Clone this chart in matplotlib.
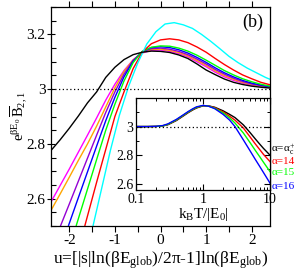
import matplotlib
matplotlib.use("Agg")
import matplotlib.pyplot as plt
from matplotlib.ticker import MultipleLocator, FixedLocator, LogLocator, NullFormatter

plt.rcParams['font.family'] = ['Liberation Serif', 'DejaVu Serif']
plt.rcParams['mathtext.fontset'] = 'custom'
plt.rcParams['mathtext.rm'] = 'Liberation Serif'
plt.rcParams['mathtext.it'] = 'Liberation Serif:italic'

# ---------------- main panel data ----------------
u_black = [-2.4, -2.2, -2.0, -1.8, -1.6, -1.4, -1.2, -1.0, -0.8, -0.6, -0.4, -0.2, 0.0,
           0.2, 0.4, 0.6, 0.8, 1.0, 1.2, 1.4, 1.6, 1.8, 2.0, 2.2, 2.4]
B_black = [2.776, 2.815, 2.857, 2.902, 2.950, 2.990, 3.043, 3.080, 3.108, 3.126, 3.135, 3.139, 3.138,
           3.134, 3.125, 3.112, 3.092, 3.070, 3.053, 3.037, 3.025, 3.017, 3.011, 3.007, 3.004]

u_magenta = [-2.4, -2.2, -2.0, -1.8, -1.6, -1.4, -1.2, -1.0, -0.8, -0.6, -0.4, -0.2, 0.0,
             0.2, 0.4, 0.6, 0.8, 1.0, 1.2, 1.4, 1.6, 1.8, 2.0, 2.2, 2.4]
B_magenta = [2.588, 2.648, 2.708, 2.770, 2.832, 2.895, 2.960, 3.018, 3.068, 3.107, 3.132, 3.142, 3.143,
             3.138, 3.130, 3.118, 3.100, 3.082, 3.062, 3.045, 3.032, 3.022, 3.015, 3.010, 3.006]

u_orange = [-2.4, -2.2, -2.0, -1.8, -1.6, -1.4, -1.2, -1.0, -0.8, -0.6, -0.4, -0.2, 0.0,
            0.2, 0.4, 0.6, 0.8, 1.0, 1.2, 1.4, 1.6, 1.8, 2.0, 2.2, 2.4]
B_orange = [2.557, 2.617, 2.678, 2.740, 2.800, 2.865, 2.935, 3.005, 3.064, 3.107, 3.134, 3.145, 3.146,
            3.142, 3.134, 3.122, 3.105, 3.087, 3.067, 3.050, 3.036, 3.025, 3.017, 3.011, 3.007]

u_purple = [-2.2, -2.0, -1.8, -1.6, -1.4, -1.2, -1.0, -0.8, -0.6, -0.4, -0.2, 0.0,
            0.2, 0.4, 0.6, 0.8, 1.0, 1.2, 1.4, 1.6, 1.8, 2.0, 2.2, 2.4]
B_purple = [2.497, 2.580, 2.664, 2.748, 2.832, 2.915, 2.990, 3.055, 3.105, 3.136, 3.148, 3.150,
            3.146, 3.138, 3.126, 3.110, 3.092, 3.072, 3.055, 3.040, 3.028, 3.019, 3.013, 3.008]

u_blue = [-2.02, -1.8, -1.6, -1.4, -1.2, -1.0, -0.8, -0.6, -0.4, -0.2, 0.0,
          0.2, 0.4, 0.6, 0.8, 1.0, 1.2, 1.4, 1.6, 1.8, 2.0, 2.2, 2.4]
B_blue = [2.500, 2.604, 2.698, 2.792, 2.885, 2.970, 3.045, 3.102, 3.137, 3.152, 3.155,
          3.152, 3.144, 3.132, 3.116, 3.098, 3.078, 3.060, 3.045, 3.032, 3.022, 3.015, 3.009]

u_green = [-1.85, -1.6, -1.4, -1.2, -1.0, -0.8, -0.6, -0.4, -0.2, 0.0,
           0.2, 0.4, 0.6, 0.8, 1.0, 1.2, 1.4, 1.6, 1.8, 2.0, 2.2, 2.4]
B_green = [2.500, 2.635, 2.743, 2.850, 2.945, 3.030, 3.097, 3.138, 3.153, 3.158,
           3.157, 3.150, 3.139, 3.124, 3.106, 3.087, 3.068, 3.052, 3.038, 3.027, 3.018, 3.011]

u_red = [-1.66, -1.4, -1.2, -1.0, -0.8, -0.6, -0.4, -0.2, 0.0,
         0.2, 0.4, 0.6, 0.8, 1.0, 1.2, 1.4, 1.6, 1.8, 2.0, 2.2, 2.4]
B_red = [2.500, 2.660, 2.780, 2.900, 2.990, 3.075, 3.135, 3.166, 3.180,
         3.184, 3.180, 3.170, 3.154, 3.135, 3.112, 3.090, 3.070, 3.052, 3.038, 3.025, 3.016]

u_cyan = [-1.48, -1.3, -1.1, -0.9, -0.7, -0.5, -0.3, -0.1, 0.1, 0.3, 0.5, 0.7,
          0.9, 1.1, 1.3, 1.5, 1.7, 1.9, 2.1, 2.3, 2.4]
B_cyan = [2.500, 2.630, 2.775, 2.905, 3.010, 3.095, 3.165, 3.210, 3.238, 3.243, 3.235, 3.222,
          3.200, 3.175, 3.148, 3.120, 3.097, 3.077, 3.060, 3.043, 3.036]

# ---------------- inset data ----------------
T_in = [0.1, 0.15, 0.2, 0.25, 0.3, 0.4, 0.5, 0.6, 0.7, 0.8, 1.0, 1.2, 1.5, 2.0, 2.5, 3.0, 4.0, 5.0, 6.0, 7.0, 8.0, 10.0]
in_black = [3.0, 3.0, 3.001, 3.004, 3.013, 3.042, 3.072, 3.097, 3.116, 3.130, 3.145, 3.145, 3.135, 3.110, 3.085, 3.063, 3.012, 2.960, 2.915, 2.878, 2.847, 2.800]
in_red = [3.0, 3.0, 3.001, 3.005, 3.015, 3.045, 3.075, 3.100, 3.119, 3.133, 3.146, 3.145, 3.132, 3.102, 3.072, 3.045, 2.990, 2.930, 2.880, 2.840, 2.805, 2.755]
in_green = [3.0, 3.0, 3.001, 3.005, 3.016, 3.047, 3.077, 3.102, 3.121, 3.135, 3.147, 3.144, 3.128, 3.095, 3.060, 3.025, 2.955, 2.890, 2.835, 2.790, 2.750, 2.685]
in_blue = [3.0, 3.0, 3.002, 3.007, 3.019, 3.050, 3.080, 3.105, 3.124, 3.138, 3.148, 3.143, 3.125, 3.085, 3.045, 3.000, 2.907, 2.833, 2.772, 2.722, 2.678, 2.604]
legend_labels = [r'α=α$_{\mathregular{c}}^{\mathregular{+}}$', 'α=14', 'α=15', 'α=16']

fig = plt.figure(figsize=(2.99, 2.71), dpi=100)
ax = fig.add_axes([0.1706, 0.166, 0.7324, 0.808])

main_series = [
    (u_magenta, B_magenta, '#ff00ff'),
    (u_orange, B_orange, '#ffa500'),
    (u_purple, B_purple, '#9400d3'),
    (u_blue, B_blue, '#0000ff'),
    (u_green, B_green, '#00ff00'),
    (u_red, B_red, '#ff0000'),
    (u_cyan, B_cyan, '#00ffff'),
    (u_black, B_black, '#000000'),
]
for xs, ys, c in main_series:
    ax.plot(xs, ys, color=c, lw=1.0, solid_capstyle='butt')
ax.axhline(3.0, color='black', lw=0.9, ls=(0, (1, 2)))
ax.set_xlim(-2.4, 2.4)
ax.set_ylim(2.5, 3.3)
ax.yaxis.set_major_locator(FixedLocator([2.6, 2.8, 3.0, 3.2]))
ax.set_yticklabels(['2.6', '2.8', '3', '3.2'])
ax.yaxis.set_minor_locator(MultipleLocator(0.05))
ax.xaxis.set_major_locator(FixedLocator([-2, -1, 0, 1, 2]))
ax.set_xticklabels(['-2', '-1', '0', '1', '2'])
ax.xaxis.set_minor_locator(MultipleLocator(0.5))
ax.tick_params(axis='y', which='major', direction='inout', length=6, width=0.8, labelsize=11, pad=1, right=False)
ax.tick_params(axis='y', which='minor', direction='in', length=3.5, width=0.8, right=False)
ax.tick_params(axis='x', which='both', direction='out', length=4, width=0.8, labelsize=11, top=True, pad=2)
for sp in ax.spines.values():
    sp.set_linewidth(0.9)
ax.set_xlabel('u=[|s|ln(βE$_{\\mathregular{glob}}$)/2π-1]ln(βE$_{\\mathregular{glob}}$)', fontsize=12.5)
ax.xaxis.set_label_coords(0.5, -0.105)
ax.set_ylabel(r'$\mathregular{e^{\beta E_0}\,\overline{B}_{2,1}}$', fontsize=10.5)
ax.yaxis.set_label_coords(-0.095, 0.5)
ax.text(0.92, 0.93, '(b)', transform=ax.transAxes, fontsize=13, ha='center', va='center')

# ---------------- inset ----------------
ins = fig.add_axes([0.4548, 0.2989, 0.4482, 0.3395])
for ys, c in [(in_black, '#000000'), (in_red, '#ff0000'), (in_green, '#00ff00'), (in_blue, '#0000ff')]:
    ins.plot(T_in, ys, color=c, lw=1.0)
ins.axhline(3.0, color='black', lw=0.9, ls=(0, (1, 2)))
ins.set_xscale('log')
ins.set_xlim(0.1, 10)
ins.set_ylim(2.556, 3.2)
ins.xaxis.set_major_locator(FixedLocator([0.1, 1, 10]))
ins.set_xticklabels(['0.1', '1', '10'])
ins.xaxis.set_minor_locator(LogLocator(base=10, subs=range(2, 10)))
ins.xaxis.set_minor_formatter(NullFormatter())
ins.yaxis.set_major_locator(FixedLocator([2.6, 2.8, 3.0]))
ins.set_yticklabels(['2.6', '2.8', '3'])
ins.yaxis.set_minor_locator(FixedLocator([2.7, 2.9, 3.1]))
ins.tick_params(which='major', direction='in', length=4, width=0.8, labelsize=10, top=True, right=True, pad=2)
ins.tick_params(which='minor', direction='in', length=2.5, width=0.7, top=True, right=True)
for sp in ins.spines.values():
    sp.set_linewidth(0.9)
ins.set_xlabel('k$_{\\mathregular{B}}$T/|E$_{\\mathregular{0}}$|', fontsize=11, labelpad=0)
leg_colors = ['#000000', '#ff0000', '#00ff00', '#0000ff']
leg_y = [2.837, 2.753, 2.680, 2.578]
for lab, c, yy in zip(legend_labels, leg_colors, leg_y):
    ins.text(1.01, yy, lab, color=c, fontsize=8, transform=ins.get_yaxis_transform(),
             ha='left', va='center', clip_on=False)

fig.savefig('out.png', dpi=100)
